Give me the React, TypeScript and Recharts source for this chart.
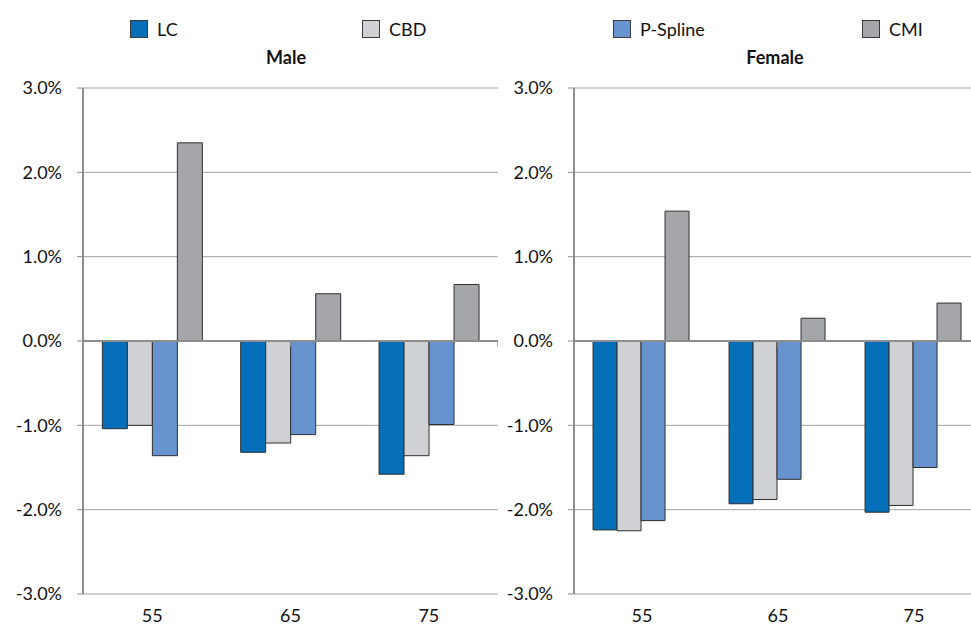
import { Bar, BarChart, CartesianGrid, Legend, ReferenceLine, XAxis, YAxis } from 'recharts'

const categories = ['55', '65', '75']
const seriesNames = ['LC', 'CBD', 'P-Spline', 'CMI']
const seriesColors = ['#0570b9', '#d0d1d4', '#6794ce', '#a5a6aa']

// values in percent
const maleLC = [-1.04, -1.32, -1.58]
const maleCBD = [-1.0, -1.21, -1.36]
const maleSpline = [-1.36, -1.11, -0.99]
const maleCMI = [2.35, 0.56, 0.67]

const femaleLC = [-2.24, -1.93, -2.03]
const femaleCBD = [-2.25, -1.88, -1.95]
const femaleSpline = [-2.13, -1.64, -1.5]
const femaleCMI = [1.54, 0.27, 0.45]

const yTicks = [-3, -2, -1, 0, 1, 2, 3]
const boundaries = [1, 2, 3]

const FONT = 'Lato, "Open Sans", sans-serif'
const FS = 18
const AXIS = '#8e8e8e'
const GRID = '#a3a3a3'
const legendX = [130, 362, 613, 862]

const toRows = (lc: number[], cbd: number[], sp: number[], cmi: number[]) =>
  categories.map((age, i) => ({
    age,
    LC: lc[i],
    CBD: cbd[i],
    'P-Spline': sp[i],
    CMI: cmi[i],
  }))

const maleData = toRows(maleLC, maleCBD, maleSpline, maleCMI)
const femaleData = toRows(femaleLC, femaleCBD, femaleSpline, femaleCMI)

// legend keeps the series order (recharts sorts its payload by name)
function LegendRow() {
  return (
    <div style={{ position: 'relative', height: 20, fontFamily: FONT, fontSize: FS }}>
      {seriesNames.map((name, i) => (
        <div
          key={name}
          style={{ position: 'absolute', left: legendX[i], top: 0, display: 'flex', alignItems: 'center' }}
        >
          <span
            style={{
              display: 'inline-block',
              width: 16,
              height: 16,
              background: seriesColors[i],
              border: '1px solid #3a3a3a',
              marginRight: 9,
            }}
          />
          <span style={{ color: '#111' }}>{name}</span>
        </div>
      ))}
    </div>
  )
}

function Panel({
  data,
  width,
  axisWidth,
  withLegend,
}: {
  data: ReturnType<typeof toRows>
  width: number
  axisWidth: number
  withLegend?: boolean
}) {
  return (
    <BarChart
      width={width}
      height={626}
      data={data}
      margin={{ top: 88, right: 0, bottom: 2, left: 0 }}
      barCategoryGap="14%"
      barGap={0}
      style={{ fontFamily: FONT }}
    >
      <CartesianGrid vertical={false} stroke={GRID} />
      <XAxis
        dataKey="age"
        axisLine={false}
        tickLine={false}
        height={30}
        tickMargin={9}
        tick={{ fill: '#111', fontSize: FS }}
      />
      <XAxis xAxisId="band" type="number" domain={[0, 3]} hide />
      <YAxis
        domain={[-3, 3]}
        ticks={yTicks}
        width={axisWidth}
        axisLine={{ stroke: AXIS, strokeWidth: 2 }}
        tickLine={{ stroke: AXIS }}
        tickSize={6}
        tickMargin={15}
        tick={{ fill: '#111', fontSize: FS }}
        tickFormatter={(v: number) => `${v.toFixed(1)}%`}
      />
      {withLegend && (
        <Legend
          layout="horizontal"
          verticalAlign="middle"
          align="center"
          wrapperStyle={{ top: 18, left: 0, width: 971 }}
          content={<LegendRow />}
        />
      )}
      {seriesNames.map((name, i) => (
        <Bar
          key={name}
          dataKey={name}
          name={name}
          fill={seriesColors[i]}
          stroke="#2f2f2f"
          strokeWidth={1}
          isAnimationActive={false}
        />
      ))}
      <ReferenceLine y={0} stroke={AXIS} strokeWidth={2} />
      {boundaries.map((b) => (
        <ReferenceLine
          key={b}
          xAxisId="band"
          segment={[
            { x: b, y: 0 },
            { x: b, y: -0.07 },
          ]}
          stroke={AXIS}
          strokeWidth={1.5}
        />
      ))}
    </BarChart>
  )
}

const titleStyle = {
  position: 'absolute' as const,
  top: 46,
  width: 200,
  textAlign: 'center' as const,
  fontFamily: FONT,
  fontWeight: 700,
  fontSize: FS,
  color: '#111',
}

export default function App() {
  return (
    <div
      style={{
        position: 'absolute',
        left: 0,
        top: 0,
        width: 971,
        height: 626,
        overflow: 'hidden',
        background: '#fff',
      }}
    >
      <div style={{ position: 'absolute', left: 0, top: 0 }}>
        <Panel data={maleData} width={498} axisWidth={83} withLegend />
      </div>
      <div style={{ position: 'absolute', left: 490, top: 0 }}>
        <Panel data={femaleData} width={492} axisWidth={84} />
      </div>
      <div style={{ ...titleStyle, left: 186 }}>Male</div>
      <div style={{ ...titleStyle, left: 675 }}>Female</div>
    </div>
  )
}
